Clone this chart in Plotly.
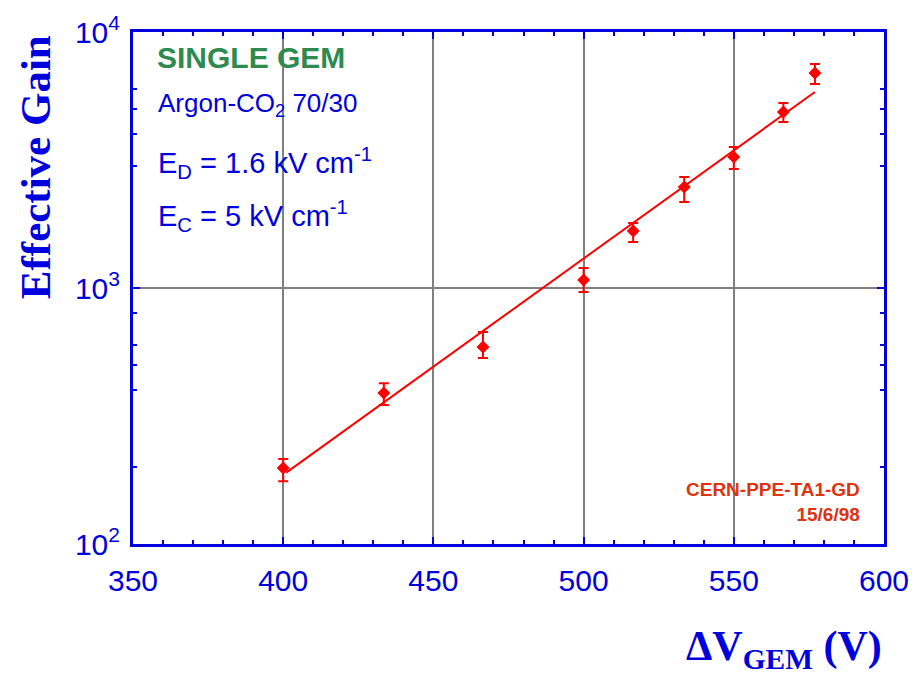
import plotly.graph_objects as go

# Single GEM effective gain vs. GEM voltage (Ar-CO2 70/30)
voltage = [400, 433.5, 466.5, 500, 516.5, 533.5, 550, 566.5, 577]
gain = [198, 389, 588, 1075, 1670, 2480, 3250, 4870, 6920]
gain_err_up = [17, 36, 85, 122, 125, 234, 305, 411, 579]
gain_err_down = [22, 40, 55, 111, 158, 312, 334, 421, 656]

# Exponential fit drawn between its end points
fit_voltage = [401, 577]
fit_gain = [190, 5830]

x_ticks = [350, 400, 450, 500, 550, 600]
y_ticks = [100, 1000, 10000]
y_tick_labels = ["10<sup>2</sup>", "10<sup>3</sup>", "10<sup>4</sup>"]
y_minor_ticks = [200, 400, 500, 600, 800, 3000, 4000, 5000, 6000]

BLUE = "#0000DD"
RED = "#FF0000"
GRID = "#808080"

fig = go.Figure()

fig.add_trace(go.Scatter(
    x=fit_voltage, y=fit_gain, mode="lines",
    line=dict(color=RED, width=2), hoverinfo="skip", showlegend=False,
))
fig.add_trace(go.Scatter(
    x=voltage, y=gain, mode="markers",
    marker=dict(symbol="diamond", size=10, color=RED),
    error_y=dict(type="data", symmetric=False, array=gain_err_up,
                 arrayminus=gain_err_down, color=RED, thickness=2, width=5),
    showlegend=False,
))

# white panel behind the legend text block
fig.add_shape(type="rect", xref="paper", yref="paper",
              x0=0, x1=0.3, y0=0.574, y1=1,
              fillcolor="white", line=dict(width=0), layer="between")

txt_font = "Liberation Sans, Arial, sans-serif"
fig.add_annotation(x=0.029, y=0.951, xref="paper", yref="paper",
                   xanchor="left", yanchor="middle", showarrow=False,
                   text="<b>SINGLE GEM</b>",
                   font=dict(family=txt_font, size=30, color="#2E8B50"))
fig.add_annotation(x=0.031, y=0.859, xref="paper", yref="paper",
                   xanchor="left", yanchor="middle", showarrow=False,
                   text="Argon-CO<sub>2</sub> 70/30",
                   font=dict(family=txt_font, size=26, color=BLUE))
fig.add_annotation(x=0.031, y=0.745, xref="paper", yref="paper",
                   xanchor="left", yanchor="middle", showarrow=False,
                   text="E<sub>D</sub> = 1.6 kV cm<sup>-1</sup>",
                   font=dict(family=txt_font, size=29, color=BLUE))
fig.add_annotation(x=0.031, y=0.640, xref="paper", yref="paper",
                   xanchor="left", yanchor="middle", showarrow=False,
                   text="E<sub>C</sub> = 5 kV cm<sup>-1</sup>",
                   font=dict(family=txt_font, size=29, color=BLUE))
fig.add_annotation(x=0.971, y=0.082, xref="paper", yref="paper",
                   xanchor="right", yanchor="middle", align="right",
                   showarrow=False,
                   text="<b>CERN-PPE-TA1-GD<br>15/6/98</b>",
                   font=dict(family=txt_font, size=19, color="#DD3311"))

# axis titles
fig.add_annotation(x=-0.1305, y=0.736, xref="paper", yref="paper",
                   xanchor="center", yanchor="middle", textangle=-90,
                   showarrow=False, text="<b>Effective Gain</b>",
                   font=dict(family="Liberation Serif, serif", size=43, color=BLUE))
fig.add_annotation(x=1.0, y=-0.205, xref="paper", yref="paper",
                   xanchor="right", yanchor="middle", showarrow=False,
                   text="<b>ΔV<sub>GEM</sub> (V)</b>",
                   font=dict(family="Liberation Serif, serif", size=42, color=BLUE))

axis_common = dict(
    showline=True, linecolor=BLUE, linewidth=3, mirror="allticks",
    ticks="inside", tickcolor=BLUE, tickwidth=2, ticklen=7,
    zeroline=False,
    tickfont=dict(family="Liberation Sans, Arial, sans-serif", size=30, color=BLUE),
)

fig.update_xaxes(
    range=[350, 600], tickvals=x_ticks, ticktext=[str(v) for v in x_ticks],
    showgrid=True, gridcolor=GRID, gridwidth=2,
    minor=dict(dtick=10, ticks="inside", ticklen=4, tickwidth=2,
               tickcolor=BLUE, showgrid=False),
    ticklabelstandoff=8,
    **axis_common,
)
fig.update_yaxes(
    type="log", range=[2, 4], tickvals=y_ticks, ticktext=y_tick_labels,
    showgrid=True, gridcolor=GRID, gridwidth=2,
    minor=dict(tickvals=y_minor_ticks, ticks="inside", ticklen=4,
               tickwidth=2, tickcolor=BLUE, showgrid=False),
    ticklabelstandoff=4,
    **axis_common,
)

fig.update_layout(
    width=923, height=677,
    margin=dict(l=133, r=39, t=32, b=133),
    paper_bgcolor="white", plot_bgcolor="white",
    showlegend=False,
)

fig.write_html("out.html")
